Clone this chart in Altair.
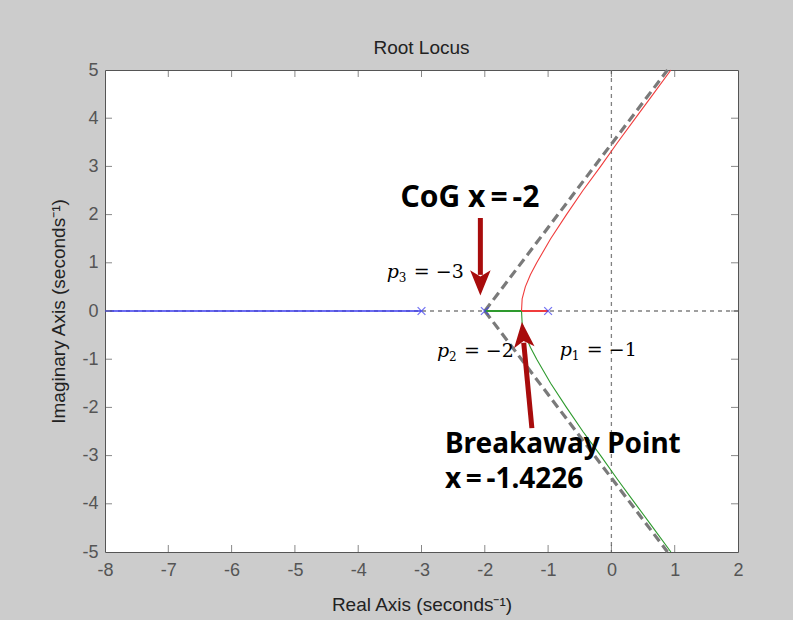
import altair as alt
import pandas as pd

# ---------------- data ----------------
x_ticks = list(range(-8, 3))
y_ticks = list(range(-5, 6))
inner_x_ticks = list(range(-7, 2))
inner_y_ticks = list(range(-4, 5))

poles_x = [-1, -2, -3]
poles_y = [0, 0, 0]

blue_x = [-3, -8]
blue_y = [0, 0]

red_real_x = [-1.0, -1.4226]
green_real_x = [-2.0, -1.4226]
real_y = [0, 0]

curve_up_y = [0, 0.25, 0.5, 0.75, 1.0, 1.5, 2.0, 2.5, 3.0, 3.5, 4.0, 4.5, 5.0]
curve_x = [-1.42, -1.41, -1.36, -1.28, -1.18, -0.96, -0.71, -0.45, -0.17, 0.10, 0.38, 0.66, 0.94]
curve_down_y = [-v for v in curve_up_y]

asym_x = [-2.0, 0.887]
asym_up_y = [0, 5]
asym_down_y = [0, -5]

pole_names = ["3", "2", "1"]
pole_values = ["= \u22123", "= \u22122", "= \u22121"]

# ---------------- layout ----------------
W, H = 633, 482
XDOM, YDOM = [-8, 2], [-5, 5]
ARROW = "#a80c0c"

xaxis = alt.Axis(values=x_ticks, title="Real Axis (seconds\u207b\u00b9)", ticks=False, domain=False,
                 grid=False, labelFontSize=18, labelColor="#555555", labelPadding=9,
                 labelFlush=False, labelOverlap=False, labelExpr="datum.value + ''",
                 titleFontSize=19, titleFontWeight="normal", titleColor="#222222", titlePadding=16)
yaxis = alt.Axis(values=y_ticks, title="Imaginary Axis (seconds\u207b\u00b9)", ticks=False, domain=False,
                 grid=False, labelFontSize=18, labelColor="#555555", labelPadding=7,
                 labelFlush=False, labelOverlap=False, labelExpr="datum.value + ''",
                 titleFontSize=19, titleFontWeight="normal", titleColor="#222222", titlePadding=13)


def X(f):
    return alt.X(f, type="quantitative", scale=alt.Scale(domain=XDOM, nice=False, zero=False), axis=xaxis)


def Y(f):
    return alt.Y(f, type="quantitative", scale=alt.Scale(domain=YDOM, nice=False, zero=False), axis=yaxis)


def line_df(xs, ys):
    return pd.DataFrame({"x": xs, "y": ys, "o": list(range(len(xs)))})


layers = []

# zero lines (dotted)
layers.append(alt.Chart(pd.DataFrame({"v": [0]})).mark_rule(color="#808080", strokeWidth=1.3, strokeDash=[4, 4])
              .encode(y=Y("v")))
layers.append(alt.Chart(pd.DataFrame({"v": [0]})).mark_rule(color="#808080", strokeWidth=1.3, strokeDash=[4, 4])
              .encode(x=X("v")))

# asymptotes
for ys in (asym_up_y, asym_down_y):
    layers.append(alt.Chart(line_df(asym_x, ys)).mark_line(color="#7a7a7a", strokeWidth=3.2, strokeDash=[9, 5])
                  .encode(x=X("x"), y=Y("y"), order="o:Q"))

# locus branches
layers.append(alt.Chart(line_df(blue_x, blue_y)).mark_line(color="#3b3bef", strokeWidth=1.6)
              .encode(x=X("x"), y=Y("y"), order="o:Q"))
layers.append(alt.Chart(line_df(red_real_x, real_y)).mark_line(color="#f03c3c", strokeWidth=2)
              .encode(x=X("x"), y=Y("y"), order="o:Q"))
layers.append(alt.Chart(line_df(green_real_x, real_y)).mark_line(color="#2e9a2e", strokeWidth=2)
              .encode(x=X("x"), y=Y("y"), order="o:Q"))
layers.append(alt.Chart(line_df(curve_x, curve_up_y)).mark_line(color="#f03c3c", strokeWidth=1.1)
              .encode(x=X("x"), y=Y("y"), order="o:Q"))
layers.append(alt.Chart(line_df(curve_x, curve_down_y)).mark_line(color="#2e9a2e", strokeWidth=1.1)
              .encode(x=X("x"), y=Y("y"), order="o:Q"))

# poles
layers.append(alt.Chart(pd.DataFrame({"x": poles_x, "y": poles_y}))
              .mark_point(shape="M-1,-1L1,1M-1,1L1,-1", size=60, filled=False, color="#3b3bef", strokeWidth=1.3)
              .encode(x=X("x"), y=Y("y")))

# arrows
cog_tail, cog_tip, cog_shaft_end = (-2.07, 1.93), (-2.07, 0.32), (-2.07, 0.75)
bp_tail, bp_tip, bp_shaft_end = (-1.256, -2.43), (-1.414, -0.23), (-1.385, -0.66)

for tail, end in ((cog_tail, cog_shaft_end), (bp_tail, bp_shaft_end)):
    layers.append(alt.Chart(pd.DataFrame({"x": [tail[0]], "y": [tail[1]], "x2": [end[0]], "y2": [end[1]]}))
                  .mark_rule(color=ARROW, strokeWidth=5)
                  .encode(x=X("x"), y=Y("y"), x2="x2:Q", y2="y2:Q"))

layers.append(alt.Chart(pd.DataFrame({"x": [cog_tip[0]], "y": [cog_tip[1]]}))
              .mark_point(shape="M0,0L-0.65,-1.6L0,-1.2L0.65,-1.6Z", size=1000, filled=True, opacity=1,
                          color=ARROW)
              .encode(x=X("x"), y=Y("y")))
layers.append(alt.Chart(pd.DataFrame({"x": [bp_tip[0]], "y": [bp_tip[1]]}))
              .mark_point(shape="M0,0L-0.65,1.6L0,1.2L0.65,1.6Z", size=1000, filled=True, opacity=1,
                          color=ARROW, angle=354.6)
              .encode(x=X("x"), y=Y("y")))

# bold annotations
BOLD = dict(font="Noto Sans", fontWeight="bold", color="#000000")
layers.append(alt.Chart(pd.DataFrame({"x": [-2.235], "y": [2.34], "t": ["CoG x\u2009=\u2009-2"]}))
              .mark_text(align="center", baseline="middle", fontSize=30, **BOLD)
              .encode(x=X("x"), y=Y("y"), text="t:N"))
layers.append(alt.Chart(pd.DataFrame({"x": [-2.63, -2.63], "y": [-2.78, -3.51],
                                      "t": ["Breakaway Point", "x\u2009=\u2009-1.4226"]}))
              .mark_text(align="left", baseline="middle", fontSize=28, **BOLD)
              .encode(x=X("x"), y=Y("y"), text="t:N"))

# pole labels  p_i = value
lab = pd.DataFrame({"x": [-3.547, -2.757, -0.814], "y": [0.80, -0.83, -0.80],
                    "p": ["p", "p", "p"], "s": pole_names, "v": pole_values})
SERIF = "DejaVu Serif"
layers.append(alt.Chart(lab).mark_text(align="left", baseline="middle", font=SERIF, fontStyle="italic",
                                       fontSize=19, color="#000")
              .encode(x=X("x"), y=Y("y"), text="p:N"))
layers.append(alt.Chart(lab).mark_text(align="left", baseline="middle", font=SERIF, fontSize=12, dx=12, dy=6,
                                       color="#000")
              .encode(x=X("x"), y=Y("y"), text="s:N"))
layers.append(alt.Chart(lab).mark_text(align="left", baseline="middle", font=SERIF, fontSize=19, dx=27,
                                       color="#000")
              .encode(x=X("x"), y=Y("y"), text="v:N"))

# inward ticks on all four sides
TK = "#555555"
layers.append(alt.Chart(pd.DataFrame({"v": inner_x_ticks})).mark_tick(orient="vertical", size=7, thickness=1, color=TK)
              .encode(x=X("v"), y=alt.value(H - 3.5)))
layers.append(alt.Chart(pd.DataFrame({"v": inner_x_ticks})).mark_tick(orient="vertical", size=7, thickness=1, color=TK)
              .encode(x=X("v"), y=alt.value(3.5)))
layers.append(alt.Chart(pd.DataFrame({"v": inner_y_ticks})).mark_tick(orient="horizontal", size=7, thickness=1, color=TK)
              .encode(y=Y("v"), x=alt.value(3.5)))
layers.append(alt.Chart(pd.DataFrame({"v": inner_y_ticks})).mark_tick(orient="horizontal", size=7, thickness=1, color=TK)
              .encode(y=Y("v"), x=alt.value(W - 3.5)))

chart = (
    alt.layer(*layers)
    .properties(
        width=W, height=H,
        title=alt.TitleParams("Root Locus", fontSize=19, fontWeight="normal", color="#222222", offset=3),
        autosize=alt.AutoSizeParams(type="none"),
        padding={"left": 105, "top": 70, "right": 55, "bottom": 68},
        background="#cccccc",
    )
    .configure(font="Liberation Sans")
    .configure_view(fill="white", stroke="#555555", strokeWidth=1)
)

chart.save("out.html", embed_options={"renderer": "svg", "actions": False})
